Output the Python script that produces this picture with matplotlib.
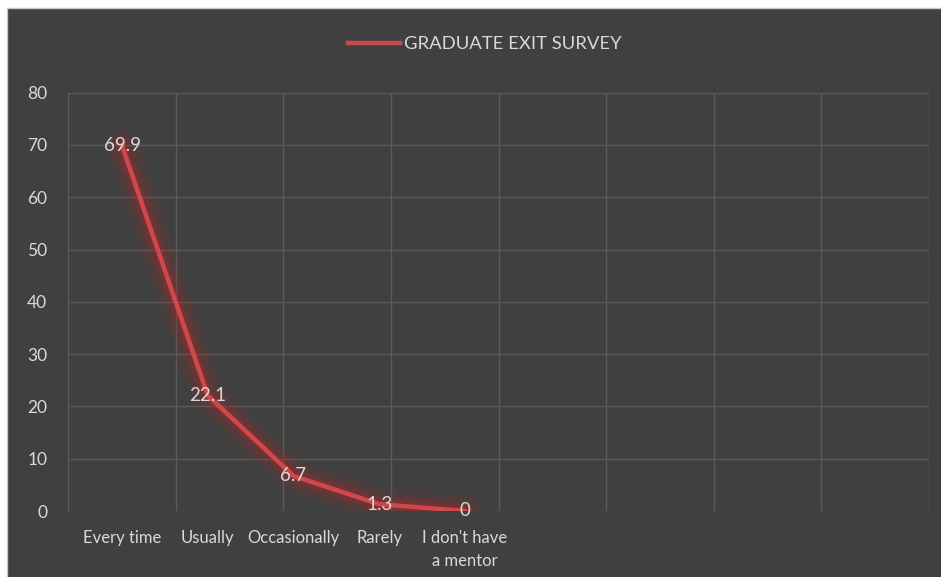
import matplotlib
matplotlib.use("Agg")
import matplotlib.pyplot as plt
from matplotlib.patches import Rectangle
import numpy as np

categories = ["Every time", "Usually", "Occasionally", "Rarely", "I don't have\na mentor"]
values = [69.9, 22.1, 6.7, 1.3, 0]
value_labels = ["69.9", "22.1", "6.7", "1.3", "0"]
series_name = "GRADUATE EXIT SURVEY"
y_ticks = [0, 10, 20, 30, 40, 50, 60, 70, 80]
n_grid_cells = 8

plt.rcParams['font.family'] = ['Lato', 'DejaVu Sans']

BG = "#404040"
TXT = "#d9d9d9"
GRID = "#5a5a5a"
LINE = "#d0494a"

W, H = 941, 577
fig = plt.figure(figsize=(W / 100, H / 100), dpi=100)
fig.patch.set_facecolor("white")
fig.add_artist(Rectangle((7 / W, -0.01), 1 - 7 / W + 0.01, 1 - 8 / H + 0.01, transform=fig.transFigure,
                         facecolor=BG, edgecolor="#c8c8c8", lw=1.0, zorder=0))

left, right = 68 / W, 929 / W
bottom, top = 1 - 511 / H, 1 - 92.7 / H
rect = [left, bottom, right - left, top - bottom]

# grid axes
ax = fig.add_axes(rect)
ax.set_facecolor("none")
ax.set_xlim(0, n_grid_cells)
ax.set_ylim(0, 80)
ax.set_yticks(y_ticks)
ax.set_yticklabels([str(t) for t in y_ticks], color=TXT, fontsize=12.5)
ax.set_xticks(np.arange(n_grid_cells + 1))
ax.set_xticklabels([])
ax.tick_params(axis="both", length=0)
ax.tick_params(axis="y", pad=15)
ax.grid(True, color=GRID, lw=1.0)
for s in ax.spines.values():
    s.set_visible(False)

# line axes (category positions)
ax2 = fig.add_axes(rect)
ax2.set_facecolor("none")
ax2.set_xlim(-0.63, 9.41)
ax2.set_ylim(0, 80)
x = np.arange(len(categories))
for w, a in [(24, 0.05), (19, 0.06), (14, 0.08), (10, 0.11), (6.5, 0.15)]:
    ax2.plot(x, values, color="#d02020", lw=w, alpha=a, solid_capstyle="round",
             solid_joinstyle="round", zorder=2)
ax2.plot(x, values, color=LINE, lw=3.2, solid_capstyle="round",
         solid_joinstyle="round", zorder=3)
for xi, v, lab in zip(x, values, value_labels):
    ax2.text(xi, v, lab, ha="center", va="center", color=TXT, fontsize=13.5, zorder=4)
ax2.set_xticks(x)
ax2.set_xticklabels(categories, color=TXT, fontsize=12, linespacing=1.5)
ax2.set_yticks([])
ax2.tick_params(axis="x", length=0, pad=14)
for s in ax2.spines.values():
    s.set_visible(False)

# legend
handle = plt.Line2D([], [], color=LINE, lw=3.2)
leg = fig.legend([handle], [series_name], loc="center", bbox_to_anchor=(0.515, 1 - 44 / H),
                 frameon=False, handlelength=2.8, handletextpad=0.2, fontsize=13.3)
for t in leg.get_texts():
    t.set_color(TXT)

fig.savefig("out.png", dpi=100, facecolor=fig.get_facecolor())
